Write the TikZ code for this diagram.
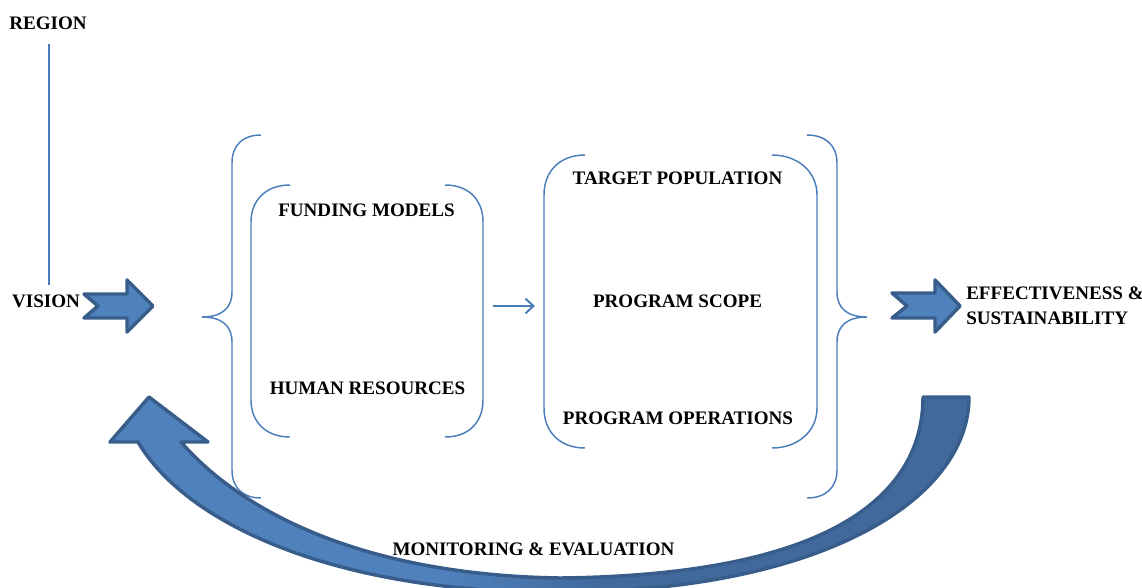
\documentclass[tikz,border=0pt]{standalone}
\usepackage{fontspec}
\setmainfont{Liberation Serif}
\usetikzlibrary{arrows.meta}
\definecolor{lineblue}{HTML}{4A7EBB}
\definecolor{fillblue}{HTML}{4F81BD}
\definecolor{darkfill}{HTML}{41699B}
\definecolor{edgeblue}{HTML}{385D8A}
\pgfdeclarehorizontalshading{curvshade}{100bp}{color(0bp)=(fillblue); color(44bp)=(fillblue); color(54bp)=(darkfill); color(100bp)=(darkfill)}
\tikzset{
  lbl/.style={font=\bfseries\fontsize{14.3}{18.75}\selectfont, inner sep=0pt, text=black},
  bracket/.style={draw=lineblue, line width=1.1pt},
  blockarrow/.style={fill=fillblue, draw=edgeblue, line width=2.6pt, line join=round},
  thinarrow/.style={draw=lineblue, line width=1.5pt, -{Straight Barb[length=6pt,width=11pt]}}
}
\begin{document}
\begin{tikzpicture}[x=0.75pt,y=-0.75pt]
\useasboundingbox (0,0) rectangle (1142,587);
% texts
\node[lbl] (region) at (48,23) {REGION};
\node[lbl] (vision) at (46,301) {VISION};
\node[lbl] (funding) at (366.5,210) {FUNDING MODELS};
\node[lbl] (human) at (367.5,388) {HUMAN RESOURCES};
\node[lbl] (target) at (677.5,178) {TARGET POPULATION};
\node[lbl] (scope) at (677.5,301) {PROGRAM SCOPE};
\node[lbl] (ops) at (678,418) {PROGRAM OPERATIONS};
\node[lbl, align=left, anchor=west] (effect) at (966,305.5) {EFFECTIVENESS \&\\SUSTAINABILITY};
\node[lbl] (monitor) at (533.5,549) {MONITORING \& EVALUATION};
% region line
\coordinate (rtop) at (49,44);
\coordinate (rbot) at (49,285);
\draw[draw=lineblue, line width=1.1pt] (rtop) -- (rbot);
% notched arrows
\draw[blockarrow] (84,294) -- (127,294) -- (127,280) -- (153,306) -- (127,332) -- (127,318) -- (84,318) -- (98,306) -- cycle;
\draw[blockarrow] (892,293) -- (935,293) -- (935,280) -- (960,306) -- (935,332) -- (935,318) -- (892,318) -- (907,306) -- cycle;
% left big brace
\draw[bracket] (261,135) .. controls (243,135) and (232,145) .. (232,163) -- (232,292)
  .. controls (232,308) and (222,317) .. (202,317)
  .. controls (222,317) and (232,326) .. (232,342) -- (232,470)
  .. controls (232,488) and (243,498) .. (261,498);
% right big brace
\draw[bracket] (807,135) .. controls (825,135) and (837,145) .. (837,163) -- (837,292)
  .. controls (837,308) and (847,317) .. (867,317)
  .. controls (847,317) and (837,326) .. (837,342) -- (837,470)
  .. controls (837,488) and (825,498) .. (807,498);
% funding brackets
\draw[bracket] (290,185) .. controls (266,185) and (251,200) .. (251,222) -- (251,400)
  .. controls (251,422) and (266,437) .. (290,437);
\draw[bracket] (445,185) .. controls (469,185) and (483,200) .. (483,222) -- (483,400)
  .. controls (483,422) and (469,437) .. (445,437);
% program brackets
\draw[bracket] (585,155) .. controls (560,155) and (544,171) .. (544,195) -- (544,408)
  .. controls (544,432) and (560,448) .. (585,448);
\draw[bracket] (772,155) .. controls (797,155) and (817,171) .. (817,195) -- (817,408)
  .. controls (817,432) and (797,448) .. (772,448);
% small arrow
\coordinate (sa) at (493,306);
\coordinate (sb) at (535,306);
\draw[thinarrow] (sa) -- (sb);
% big curved arrow
\path[shading=curvshade, draw=edgeblue, line width=2.6pt, line join=round]
  (969,397) .. controls (969,500) and (820,592) .. (560,592)
  .. controls (350,594) and (190,530) .. (138,442)
  -- (110,442) -- (149,397) -- (208,442) -- (181,442)
  .. controls (240,510) and (360,575) .. (560,578)
  .. controls (840,575) and (923,490) .. (923,397) -- cycle;
\end{tikzpicture}
\end{document}
